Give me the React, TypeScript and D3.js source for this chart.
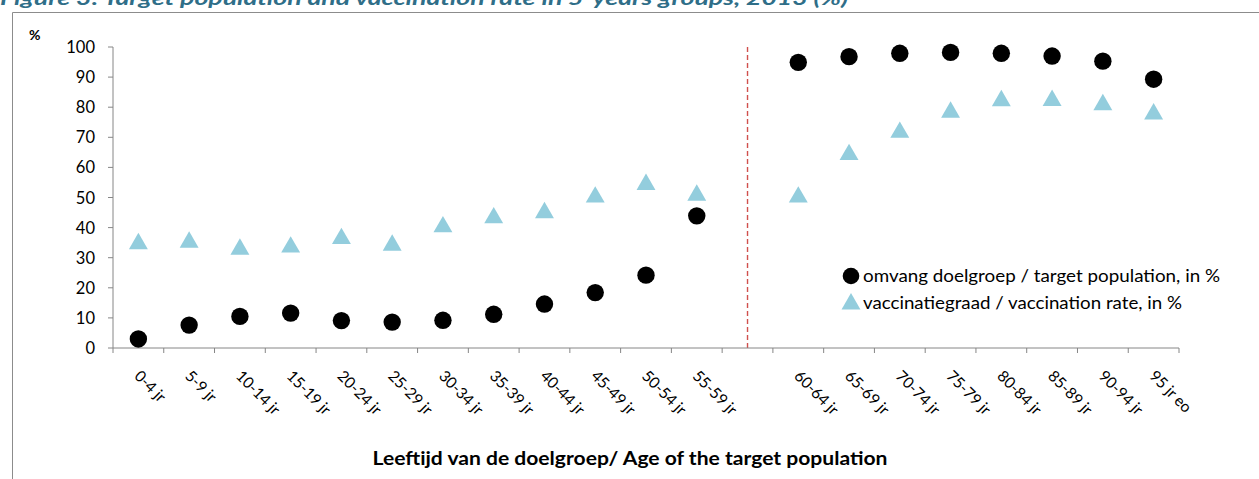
import * as d3 from "d3";

const WIDTH = 1259;
const HEIGHT = 479;
const PLOT = { left: 113, right: 1179, top: 47, bottom: 348 };

// age groups, slot 12 is the empty gap where the red dashed line sits
const ageGroups = [
  "0-4 jr", "5-9 jr", "10-14 jr", "15-19 jr", "20-24 jr", "25-29 jr",
  "30-34 jr", "35-39 jr", "40-44 jr", "45-49 jr", "50-54 jr", "55-59 jr",
  "",
  "60-64 jr", "65-69 jr", "70-74 jr", "75-79 jr", "80-84 jr", "85-89 jr",
  "90-94 jr", "95 jr eo",
];
const targetPopulation = [
  3.0, 7.6, 10.5, 11.6, 9.1, 8.6, 9.2, 11.2, 14.6, 18.4, 24.2, 43.9,
  null,
  94.9, 96.8, 97.9, 98.2, 97.9, 97.0, 95.3, 89.3,
];
const vaccinationRate = [
  35.3, 35.8, 33.5, 34.2, 37.0, 34.8, 40.9, 43.9, 45.6, 50.8, 55.0, 51.4,
  null,
  50.8, 64.9, 72.3, 79.0, 82.8, 82.9, 81.5, 78.4,
];
const yTicks = [0, 10, 20, 30, 40, 50, 60, 70, 80, 90, 100];
const gapIndex = 12;

const AXIS_COLOR = "#868686";
const TRI_COLOR = "#93CDDD";
const FONT = "Lato, 'Open Sans', sans-serif";

export default function App() {
  const slots = ageGroups.map((_, i) => String(i));

  const xScale = d3
    .scaleBand<string>()
    .domain(slots)
    .range([PLOT.left, PLOT.right])
    .padding(0);

  const yScale = d3
    .scaleLinear()
    .domain([0, 100])
    .range([PLOT.bottom, PLOT.top]);

  const cx = (i: number) => (xScale(String(i)) ?? 0) + xScale.bandwidth() / 2;

  const triangle = d3.symbol().type(d3.symbolTriangle).size(155);

  // tick marks at band boundaries
  const xTickPos = slots.map((s) => xScale(s) ?? 0).concat([PLOT.right]);

  return (
    <svg
      width={WIDTH}
      height={HEIGHT}
      style={{ position: "absolute", left: 0, top: 0, background: "#fff" }}
      fontFamily={FONT}
    >
      {/* title, cut off at top like the source */}
      <text
        x={0}
        y={5}
        fontSize={19}
        fontWeight="bold"
        fontStyle="italic"
        fill="#2F6E88"
        textLength={848}
        lengthAdjust="spacingAndGlyphs"
      >
        Figure 3: Target population and vaccination rate in 5-years groups, 2013 (%)
      </text>

      {/* chart frame */}
      <path
        d={`M12.5,${HEIGHT + 5} V12.5 H${WIDTH + 5}`}
        fill="none"
        stroke="#8C8C8C"
        strokeWidth={1}
      />

      {/* y axis */}
      <line x1={PLOT.left} x2={PLOT.left} y1={PLOT.top} y2={PLOT.bottom} stroke={AXIS_COLOR} />
      {yTicks.map((t) => (
        <g key={t}>
          <line
            x1={PLOT.left - 5}
            x2={PLOT.left}
            y1={yScale(t)}
            y2={yScale(t)}
            stroke={AXIS_COLOR}
          />
          <text
            x={PLOT.left - 18}
            y={yScale(t)}
            textAnchor="end"
            dominantBaseline="central"
            fontSize={16.5}
            fill="#000"
          >
            {t}
          </text>
        </g>
      ))}
      <text x={29} y={40} fontSize={14} fontWeight="bold" fill="#000">
        %
      </text>

      {/* red dashed separator */}
      <line
        x1={cx(gapIndex)}
        x2={cx(gapIndex)}
        y1={PLOT.top}
        y2={PLOT.bottom}
        stroke="#D0504D"
        strokeWidth={1.4}
        strokeDasharray="5,3"
      />

      {/* x axis */}
      <line x1={PLOT.left} x2={PLOT.right} y1={PLOT.bottom} y2={PLOT.bottom} stroke={AXIS_COLOR} />
      {xTickPos.map((x, i) => (
        <line key={i} x1={x} x2={x} y1={PLOT.bottom} y2={PLOT.bottom + 5} stroke={AXIS_COLOR} />
      ))}
      {ageGroups.map((label, i) =>
        label ? (
          <text
            key={i}
            transform={`translate(${cx(i) - 5}, ${PLOT.bottom + 29}) rotate(45)`}
            fontSize={15.5}
            fill="#000"
          >
            {label}
          </text>
        ) : null
      )}
      <text
        x={630}
        y={465}
        textAnchor="middle"
        fontSize={18}
        fontWeight="bold"
        fill="#000"
        textLength={515}
        lengthAdjust="spacingAndGlyphs"
      >
        Leeftijd van de doelgroep/ Age of the target population
      </text>

      {/* series */}
      {vaccinationRate.map((v, i) =>
        v === null ? null : (
          <path
            key={"t" + i}
            d={triangle() ?? ""}
            transform={`translate(${cx(i)}, ${yScale(v) + 2})`}
            fill={TRI_COLOR}
          />
        )
      )}
      {targetPopulation.map((v, i) =>
        v === null ? null : (
          <circle key={"c" + i} cx={cx(i)} cy={yScale(v)} r={8.7} fill="#000" />
        )
      )}

      {/* legend */}
      <circle cx={851} cy={276} r={8.3} fill="#000" />
      <path d={triangle() ?? ""} transform="translate(851, 304)" fill={TRI_COLOR} />
      <text x={863} y={282} fontSize={17} fill="#000" textLength={357} lengthAdjust="spacingAndGlyphs">
        omvang doelgroep / target population, in %
      </text>
      <text x={863} y={309} fontSize={17} fill="#000" textLength={319} lengthAdjust="spacingAndGlyphs">
        vaccinatiegraad / vaccination rate, in %
      </text>
    </svg>
  );
}
